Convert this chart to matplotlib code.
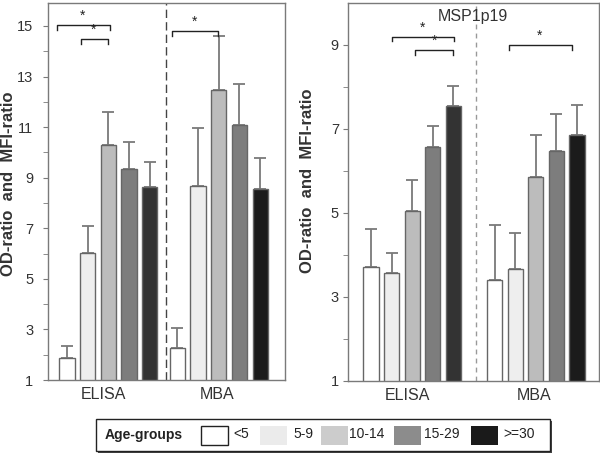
import matplotlib
matplotlib.use("Agg")
import matplotlib.pyplot as plt
from matplotlib.patches import Rectangle
import numpy as np

plt.rcParams['font.family'] = ['Liberation Sans', 'DejaVu Sans']

# ---------------- data ----------------
age_groups = ["<5", "5-9", "10-14", "15-29", ">=30"]
assays = ["ELISA", "MBA"]

# left panel
left_elisa = [1.86, 6.03, 10.28, 9.34, 8.62]
left_elisa_err = [0.50, 1.07, 1.32, 1.07, 1.00]
left_mba = [2.25, 8.68, 12.46, 11.07, 8.57]
left_mba_err = [0.79, 2.27, 2.14, 1.64, 1.19]

# right panel (MSP1p19)
right_elisa = [3.71, 3.56, 5.05, 6.57, 7.54]
right_elisa_err = [0.91, 0.48, 0.73, 0.49, 0.48]
right_mba = [3.40, 3.66, 5.86, 6.48, 6.86]
right_mba_err = [1.31, 0.86, 0.99, 0.87, 0.70]

right_title = "MSP1p19"
ylabel = "OD-ratio  and  MFI-ratio"
legend_title = "Age-groups"

# colours
elisa_colors = ["#ffffff", "#eeeeee", "#bcbcbc", "#7d7d7d", "#333333"]
mba_colors = ["#ffffff", "#eeeeee", "#bcbcbc", "#7d7d7d", "#1b1b1b"]
legend_colors = ["#ffffff", "#ebebeb", "#cccccc", "#8c8c8c", "#1a1a1a"]

# ---------------- figure ----------------
fig = plt.figure(figsize=(6.0, 4.54), dpi=100)
W, H = 600, 454

def px_axes(x0, y0, x1, y1):
    return fig.add_axes([x0 / W, 1 - y1 / H, (x1 - x0) / W, (y1 - y0) / H])

axL = px_axes(48, 2.7, 285, 380)
axR = px_axes(348, 3, 599, 381)

spine_c = "#7a7a7a"
txt_c = "#333333"
bar_w = 0.74


def draw_panel(ax, elisa, elisa_err, mba, mba_err, mba_offset, xlim, ylim,
               divider_x, div_color, div_dash, yticks, brackets, ypad):
    xe = np.arange(len(elisa), dtype=float)
    xm = np.arange(len(mba), dtype=float) + mba_offset
    for xs, vals, errs, cols in [(xe, elisa, elisa_err, elisa_colors),
                                 (xm, mba, mba_err, mba_colors)]:
        ax.bar(xs, vals, width=bar_w, bottom=0, color=cols,
               edgecolor="#666666", linewidth=1.0, zorder=2)
        ax.errorbar(xs, vals, yerr=[np.zeros(len(vals)), errs], fmt="none",
                    ecolor="#7a7a7a", elinewidth=1.3, capsize=4.2,
                    capthick=1.3, zorder=1)
    ax.axvline(divider_x, color=div_color, lw=1.0, linestyle=(0, div_dash),
               zorder=0)
    ax.set_xlim(*xlim)
    ax.set_ylim(*ylim)
    ax.set_yticks(yticks)
    ax.set_yticks(np.arange(yticks[0] + 1, ylim[1], 2), minor=True)
    ax.tick_params(axis="y", which="both", direction="out", color=spine_c,
                   labelsize=10.5, labelcolor=txt_c, pad=ypad, length=3.5)
    ax.set_xticks([xe.mean() - 0.22, xm.mean() - 0.1])
    ax.set_xticklabels(assays, fontsize=11.5, color=txt_c)
    ax.tick_params(axis="x", length=0, pad=5)
    for s in ax.spines.values():
        s.set_color(spine_c)
        s.set_linewidth(1.0)
    # significance brackets
    for x1, x2, y, xs_star in brackets:
        h = 0.012 * (ylim[1] - ylim[0])
        ax.plot([x1, x1, x2, x2], [y - h, y, y, y - h], color="#222222",
                lw=1.0, zorder=3)
        ax.text(xs_star, y + 0.006 * (ylim[1] - ylim[0]), "*", ha="center",
                va="bottom", fontsize=10, color="#222222")
    return xe, xm


# brackets: (x start, x end, y level, star x)
left_brackets = [(-0.5, 2.06, 15.03, 0.76),
                 (0.67, 2.0, 14.48, 1.3),
                 (5.07, 7.31, 14.80, 6.15)]
right_brackets = [(1.0, 4.04, 9.20, 2.5),
                  (2.14, 4.0, 8.88, 3.1),
                  (6.7, 9.76, 9.00, 8.2)]

draw_panel(axL, left_elisa, left_elisa_err, left_mba, left_mba_err, 5.33,
           (-0.92, 10.53), (1, 15.92), 4.76, "#444444", (6, 3),
           np.arange(1, 16, 2), left_brackets, 7)
draw_panel(axR, right_elisa, right_elisa_err, right_mba, right_mba_err, 6.0,
           (-1.12, 11.07), (1, 10.0), 5.08, "#999999", (3.5, 3),
           np.arange(1, 10, 2), right_brackets, 3)

for ax, lx, ly in [(axL, -0.137, 0.52), (axR, -0.13, 0.529)]:
    ax.set_ylabel(ylabel, fontsize=12, fontweight="bold", color=txt_c)
    ax.yaxis.set_label_coords(lx, ly)

axR.text(0.498, 0.963, right_title, transform=axR.transAxes, ha="center",
         va="center", fontsize=11.5, color=txt_c)

# ---------------- legend box ----------------
lx0, ly0, lx1, ly1 = 95, 418, 549, 450
axLeg = px_axes(lx0, ly0, lx1 + 3, ly1 + 3)
axLeg.set_xlim(0, lx1 + 3 - lx0)
axLeg.set_ylim(ly1 + 3, ly0)
axLeg.axis("off")
axLeg.add_patch(Rectangle((2.5, ly0 + 2.5), lx1 - lx0, ly1 - ly0,
                          facecolor="#444444", edgecolor="none", zorder=0))
axLeg.add_patch(Rectangle((0.5, ly0 + 0.5), lx1 - lx0, ly1 - ly0,
                          facecolor="white", edgecolor="#222222", lw=1.0,
                          zorder=1))
yc = (ly0 + ly1) / 2 + 1
axLeg.text(105 - lx0, yc, legend_title, fontsize=10, fontweight="bold",
           ha="left", va="center", color="#222222", zorder=2)
sq_x = [201, 260, 321, 394, 471]
tx_x = [233, 293, 349, 424, 503]
for col, lab, sx, tx in zip(legend_colors, age_groups, sq_x, tx_x):
    axLeg.add_patch(Rectangle((sx - lx0, yc - 9.5), 27, 19, facecolor=col,
                              edgecolor="#222222" if col == "#ffffff" else "none",
                              lw=1.0, zorder=2))
    axLeg.text(tx - lx0, yc - 1, lab, fontsize=10, ha="left", va="center",
               color="#222222", zorder=2)

fig.savefig("out.png", dpi=100)
